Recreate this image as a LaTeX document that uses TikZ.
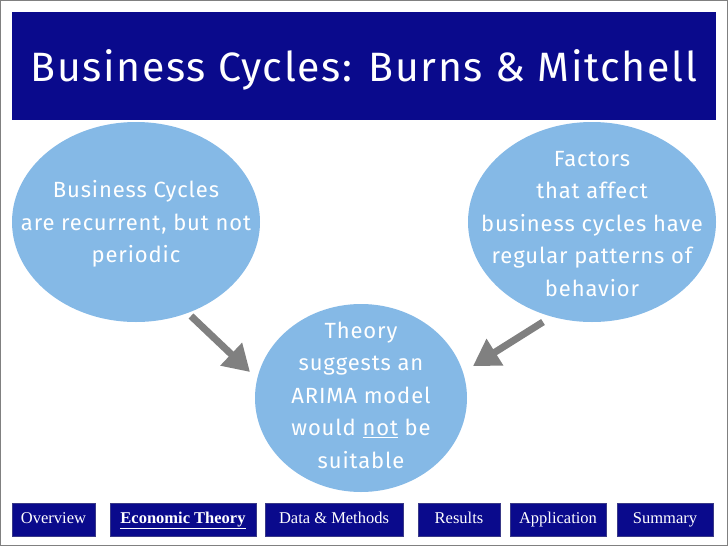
\documentclass[tikz,border=0pt]{standalone}
\usepackage{fontspec}
\setmainfont{Fira Sans}[LetterSpace=4]
\newfontfamily\navfont{Liberation Serif}
\usetikzlibrary{arrows.meta}
\definecolor{navy}{HTML}{0A0A8C}
\definecolor{bub}{HTML}{85B9E6}
\definecolor{arr}{HTML}{808080}
\begin{document}
\begin{tikzpicture}[x=1pt,y=-1pt,
  bubble/.style={fill=bub,draw=none},
  btext/.style={text=white,align=center,font=\fontsize{22}{32.5}\selectfont},
  navbox/.style={fill=navy,draw=navy!60!gray,text=white,font=\navfont\fontsize{16.5}{18}\selectfont,minimum height=33pt,inner sep=0pt,text height=11pt,text depth=3pt},
  bigarrow/.style={draw=arr,line width=7pt,-{Triangle[length=26pt,width=30pt]}}]
\useasboundingbox (0,0) rectangle (728,546);
\draw[gray,line width=1pt] (0.5,0.5) rectangle (727.5,545.5);
\node[fill=navy,minimum width=704pt,minimum height=108pt,inner sep=0pt,anchor=north west] (title) at (12,12) {};
\node[text=white,font=\fontsize{41}{44}\selectfont] (tt) at (364,70) {Business Cycles: Burns \& Mitchell};
\fill[bubble] (136,222) ellipse [x radius=124pt,y radius=100pt];
\fill[bubble] (592,222) ellipse [x radius=124pt,y radius=100pt];
\fill[bubble] (361,398) ellipse [x radius=106pt,y radius=94pt];
\node[btext] (lt) at (136,224) {Business Cycles\\are recurrent, but not\\periodic};
\node[btext] (rt) at (592,224) {Factors\\that affect\\business cycles have\\regular patterns of\\behavior};
\node[btext] (ct) at (361,395) {Theory\\suggests an\\ARIMA model\\would \underline{not} be\\suitable};
\coordinate (a1) at (191,316);
\coordinate (a2) at (250,372);
\coordinate (b1) at (543,322);
\coordinate (b2) at (473,366);
\draw[bigarrow] (a1) -- (a2);
\draw[bigarrow] (b1) -- (b2);
\node[navbox,minimum width=83pt] (n1) at (53.5,519.5) {Overview};
\node[navbox,minimum width=146pt] (n2) at (183,519.5) {\bfseries\underline{Economic Theory}};
\node[navbox,minimum width=138pt] (n3) at (334,519.5) {Data \& Methods};
\node[navbox,minimum width=82pt] (n4) at (459,519.5) {Results};
\node[navbox,minimum width=96pt] (n5) at (558,519.5) {Application};
\node[navbox,minimum width=96pt] (n6) at (665,519.5) {Summary};
\end{tikzpicture}
\end{document}
